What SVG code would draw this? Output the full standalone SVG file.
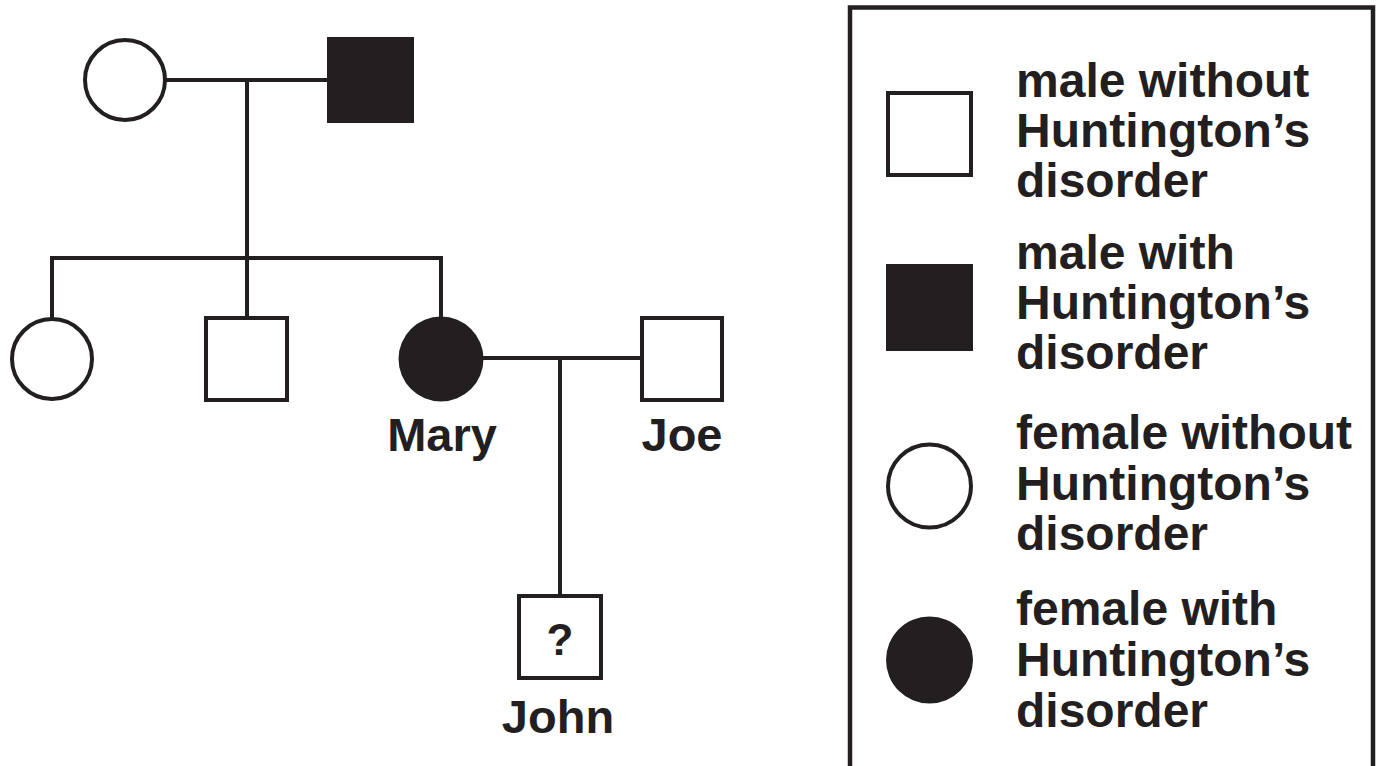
<svg xmlns="http://www.w3.org/2000/svg" width="1383" height="766" viewBox="0 0 1383 766">
<style>
.ln{stroke:#231f20;stroke-width:4;fill:none}
.open{stroke:#231f20;stroke-width:4;fill:#fff}
.fill{fill:#231f20;stroke:none}
.t{font-family:"Liberation Sans",Arial,Helvetica,sans-serif;font-weight:bold;font-size:48px;fill:#231f20}
.lbl{font-family:"Liberation Sans",Arial,Helvetica,sans-serif;font-weight:bold;font-size:47px;fill:#231f20;text-anchor:middle}
</style>
<rect width="1383" height="766" fill="#fff"/>
<g id="connectors">
  <line class="ln" x1="165" y1="80" x2="328" y2="80"/>
  <line class="ln" x1="247" y1="80" x2="247" y2="258"/>
  <polyline class="ln" points="52,318 52,258 441,258 441,318"/>
  <line class="ln" x1="247" y1="258" x2="247" y2="318"/>
  <line class="ln" x1="480" y1="358" x2="641" y2="358"/>
  <line class="ln" x1="560" y1="358" x2="560" y2="596"/>
</g>
<g id="grandmother"><circle class="open" cx="125" cy="80" r="40"/></g>
<g id="grandfather"><rect class="fill" x="327" y="37" width="87" height="86"/></g>
<g id="daughter"><circle class="open" cx="52" cy="359" r="40"/></g>
<g id="son"><rect class="open" x="206" y="318" width="81" height="82"/></g>
<g id="mary"><circle class="fill" cx="441" cy="359" r="42.5"/><text class="lbl" x="442" y="451">Mary</text></g>
<g id="joe"><rect class="open" x="642" y="318" width="80" height="82"/><text class="lbl" x="682" y="451">Joe</text></g>
<g id="john"><rect class="open" x="519" y="596" width="82" height="82"/><text class="lbl" x="560" y="655" style="font-size:44px">?</text><text class="lbl" x="558" y="733">John</text></g>
<g id="legend">
  <polyline class="ln" points="850,770 850,7.5 1373,7.5 1373,770" style="stroke-width:4.5"/>
  <g id="legend-male-without"><rect class="open" x="888" y="93" width="83" height="82"/>
    <text class="t" x="1016" y="97">male without</text><text class="t" x="1016" y="147">Huntington’s</text><text class="t" x="1016" y="197">disorder</text></g>
  <g id="legend-male-with"><rect class="fill" x="886" y="264" width="87" height="87"/>
    <text class="t" x="1016" y="269">male with</text><text class="t" x="1016" y="319">Huntington’s</text><text class="t" x="1016" y="369">disorder</text></g>
  <g id="legend-female-without"><circle class="open" cx="929.5" cy="486" r="41.5"/>
    <text class="t" x="1016" y="449">female without</text><text class="t" x="1016" y="500">Huntington’s</text><text class="t" x="1016" y="550">disorder</text></g>
  <g id="legend-female-with"><circle class="fill" cx="929.5" cy="660" r="43.5"/>
    <text class="t" x="1016" y="625">female with</text><text class="t" x="1016" y="676">Huntington’s</text><text class="t" x="1016" y="727">disorder</text></g>
</g>
</svg>
